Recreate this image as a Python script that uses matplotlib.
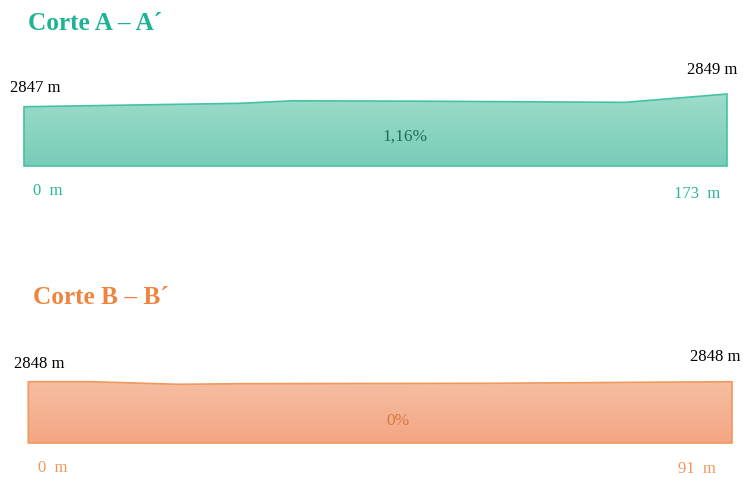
import matplotlib
matplotlib.use("Agg")
import matplotlib.pyplot as plt
import numpy as np
from matplotlib.patches import Polygon
from matplotlib.colors import LinearSegmentedColormap

# Corte A – A´ : distancia (m) y cota (m)
dist_a = [0, 53.2, 66.0, 97.4, 147.9, 173]
elev_a = [2847, 2847.54, 2847.93, 2847.87, 2847.69, 2849]
pend_a = "1,16%"

# Corte B – B´
dist_b = [0, 8.0, 19.6, 27.4, 59.7, 91]
elev_b = [2848, 2848, 2847.59, 2847.69, 2847.75, 2848]
pend_b = "0%"

W, H = 743, 481
fig = plt.figure(figsize=(W / 100, H / 100), dpi=100)
plt.rcParams["font.family"] = ["Liberation Serif", "DejaVu Serif"]


def px(x, y):
    # posicion en pixeles -> fraccion de figura
    return x / W, 1 - y / H


def perfil(caja, dist, elev, base, c_arriba, c_abajo, borde):
    x0, y0, x1, y1 = caja
    ax = fig.add_axes([x0 / W, 1 - y1 / H, (x1 - x0) / W, (y1 - y0) / H])
    ax.set_xlim(dist[0], dist[-1])
    ax.set_ylim(base, max(elev))
    ax.axis("off")
    xs = [dist[0]] + list(dist) + [dist[-1]]
    ys = [base] + list(elev) + [base]
    poly = Polygon(np.column_stack([xs, ys]), closed=True, facecolor="none",
                   edgecolor=borde, linewidth=1.2, clip_on=False, zorder=3)
    ax.add_patch(poly)
    cmap = LinearSegmentedColormap.from_list("g", [c_abajo, c_arriba])
    grad = np.linspace(0, 1, 256).reshape(-1, 1)
    im = ax.imshow(grad, cmap=cmap, origin="lower", aspect="auto",
                   extent=[dist[0], dist[-1], base, max(elev)], zorder=2)
    im.set_clip_path(poly)
    return ax


T_TIT, T_COTA, T_PEND, T_DIST = 18.2, 12, 12.5, 12

# perfil A
perfil((24, 95, 727, 167), dist_a, elev_a, 2837.7, "#9edcca", "#78cdb8", "#45c2a5")
fig.text(*px(28, 23), "Corte A – A´", fontsize=T_TIT, fontweight="bold",
         color="#1db394", va="center", ha="left")
fig.text(*px(10, 88), f"{elev_a[0]} m", fontsize=T_COTA, color="black", va="center")
fig.text(*px(737, 70), f"{elev_a[-1]} m", fontsize=T_COTA, color="black", va="center", ha="right")
fig.text(*px(405, 137), pend_a, fontsize=T_PEND, color="#1f6e5c", va="center", ha="center")
fig.text(*px(33, 191), f"{dist_a[0]}  m", fontsize=T_DIST, color="#2bb59a", va="center")
fig.text(*px(720, 194), f"{dist_a[-1]}  m", fontsize=T_DIST, color="#2bb59a", va="center", ha="right")

# perfil B
perfil((28.3, 382.7, 732, 444), dist_b, elev_b, 2838.35, "#f6bea2", "#f4a683", "#f0985e")
fig.text(*px(33, 298), "Corte B – B´", fontsize=T_TIT, fontweight="bold",
         color="#f0843e", va="center", ha="left")
fig.text(*px(14, 364), f"{elev_b[0]} m", fontsize=T_COTA, color="black", va="center")
fig.text(*px(740, 357), f"{elev_b[-1]} m", fontsize=T_COTA, color="black", va="center", ha="right")
fig.text(*px(398, 421), pend_b, fontsize=T_PEND, color="#d8773e", va="center", ha="center")
fig.text(*px(38, 468), f"{dist_b[0]}  m", fontsize=T_DIST, color="#f0975e", va="center")
fig.text(*px(716, 469), f"{dist_b[-1]}  m", fontsize=T_DIST, color="#f0975e", va="center", ha="right")

fig.savefig("out.png", dpi=100)
